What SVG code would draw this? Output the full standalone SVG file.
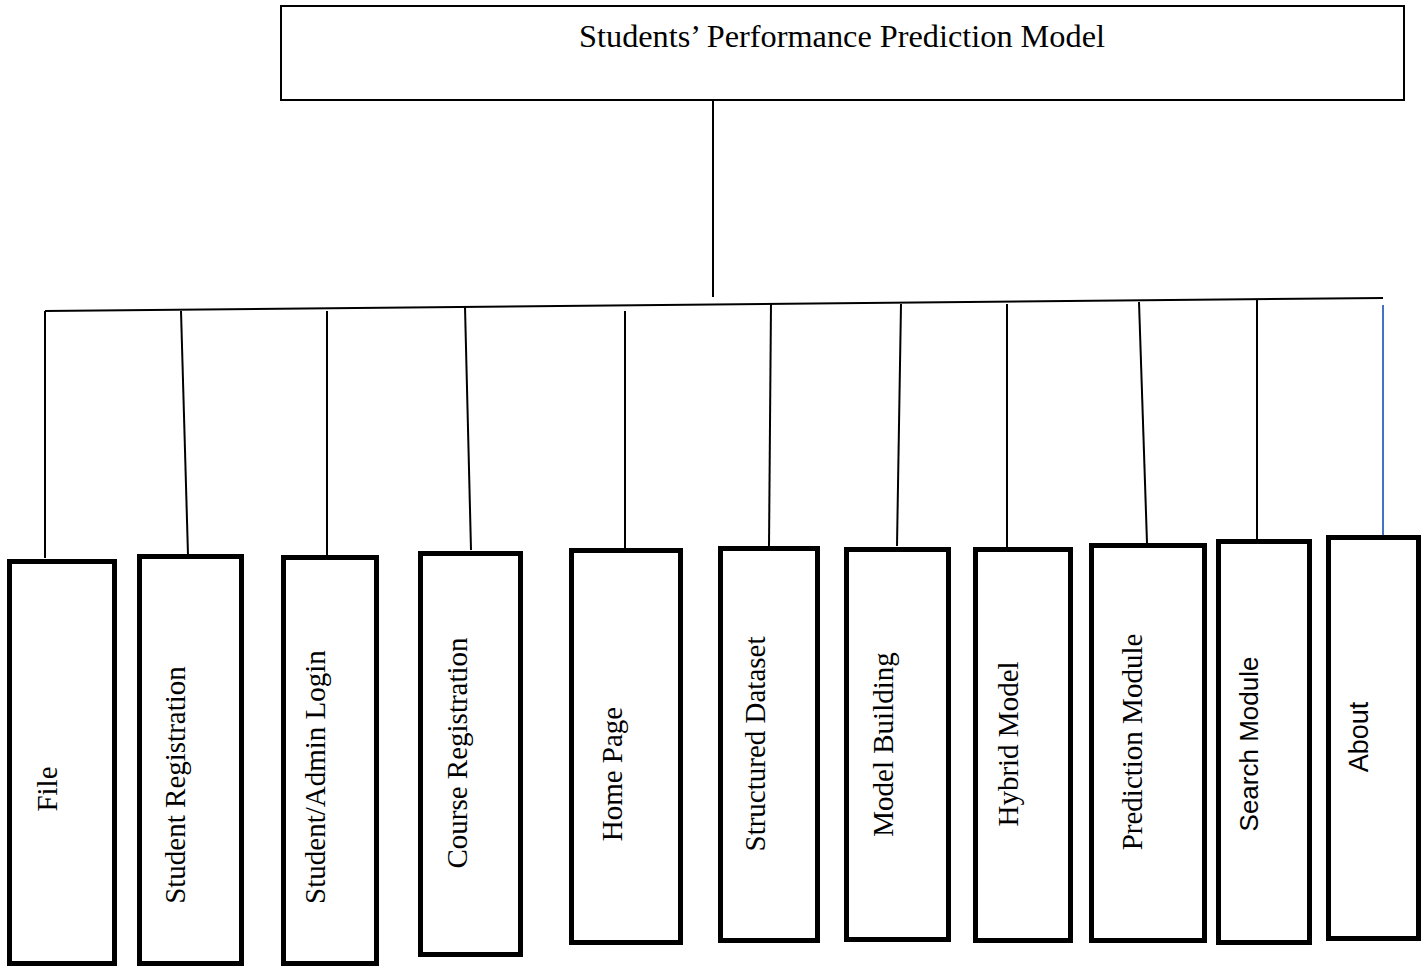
<svg xmlns="http://www.w3.org/2000/svg" width="1424" height="966" viewBox="0 0 1424 966">
  <style>
    .root { fill: #fff; stroke: #000; stroke-width: 2; }
    .box { fill: #fff; stroke: #000; stroke-width: 5; }
    .wire { fill: none; stroke: #000; stroke-width: 2; }
    .wire-blue { fill: none; stroke: #4472C4; stroke-width: 2; }
    .serif { font-family: "Liberation Serif", "Times New Roman", serif; fill: #000; }
    .sans { font-family: "Liberation Sans", Arial, sans-serif; fill: #000; }
    .label { font-size: 29px; text-anchor: middle; }
    .title { font-size: 32.3px; text-anchor: middle; }
  </style>
  <rect width="1424" height="966" fill="#fff"/>

  <!-- root node -->
  <g id="node-root">
    <rect class="root" x="281" y="6" width="1123" height="94"/>
    <text class="serif title" x="842" y="47">Students’ Performance Prediction Model</text>
  </g>

  <!-- tree connectors -->
  <g id="connectors">
    <line class="wire" x1="713" y1="100" x2="713" y2="297"/>
    <line class="wire" x1="45" y1="311" x2="1383" y2="298"/>
    <line class="wire" x1="45" y1="311" x2="45" y2="558"/>
    <line class="wire" x1="181" y1="311" x2="188" y2="555"/>
    <line class="wire" x1="327" y1="311" x2="327" y2="562"/>
    <line class="wire" x1="465" y1="307" x2="471" y2="550"/>
    <line class="wire" x1="625" y1="311" x2="625" y2="549"/>
    <line class="wire" x1="771" y1="303" x2="769" y2="547"/>
    <line class="wire" x1="901" y1="304" x2="897" y2="546"/>
    <line class="wire" x1="1007" y1="304" x2="1007" y2="547"/>
    <line class="wire" x1="1139" y1="302" x2="1147" y2="543"/>
    <line class="wire" x1="1257" y1="299" x2="1257" y2="548"/>
    <line class="wire-blue" x1="1383" y1="305" x2="1383" y2="545"/>
  </g>

  <!-- child nodes -->
  <g id="node-file">
    <rect class="box" x="9.5" y="561.5" width="105" height="402"/>
    <text class="serif label" transform="translate(57 789) rotate(-90)">File</text>
  </g>
  <g id="node-student-registration">
    <rect class="box" x="139.5" y="556.5" width="102" height="407"/>
    <text class="serif label" transform="translate(185 785) rotate(-90)">Student Registration</text>
  </g>
  <g id="node-login">
    <rect class="box" x="283.5" y="557.5" width="93" height="406"/>
    <text class="serif label" transform="translate(325 777) rotate(-90)">Student/Admin Login</text>
  </g>
  <g id="node-course-registration">
    <rect class="box" x="420.5" y="553.5" width="100" height="401"/>
    <text class="serif label" transform="translate(467 753) rotate(-90)">Course Registration</text>
  </g>
  <g id="node-home-page">
    <rect class="box" x="571.5" y="550.5" width="109" height="392"/>
    <text class="serif label" transform="translate(622 774) rotate(-90)">Home Page</text>
  </g>
  <g id="node-structured-dataset">
    <rect class="box" x="720.5" y="548.5" width="97" height="392"/>
    <text class="serif label" transform="translate(765 744) rotate(-90)">Structured Dataset</text>
  </g>
  <g id="node-model-building">
    <rect class="box" x="846.5" y="549.5" width="102" height="390"/>
    <text class="serif label" transform="translate(893 744.5) rotate(-90)">Model Building</text>
  </g>
  <g id="node-hybrid-model">
    <rect class="box" x="975.5" y="549.5" width="95" height="391"/>
    <text class="serif label" transform="translate(1018 744) rotate(-90)">Hybrid Model</text>
  </g>
  <g id="node-prediction-module">
    <rect class="box" x="1091.5" y="545.5" width="113" height="395"/>
    <text class="serif label" transform="translate(1142 742) rotate(-90)">Prediction Module</text>
  </g>
  <g id="node-search-module">
    <rect class="box" x="1218.5" y="541.5" width="91" height="401"/>
    <text class="sans" font-size="26" text-anchor="middle" transform="translate(1258 744) rotate(-90)">Search Module</text>
  </g>
  <g id="node-about">
    <rect class="box" x="1328.5" y="537.5" width="90" height="401"/>
    <text class="sans" font-size="27" text-anchor="middle" transform="translate(1368 737) rotate(-90)">About</text>
  </g>
</svg>
